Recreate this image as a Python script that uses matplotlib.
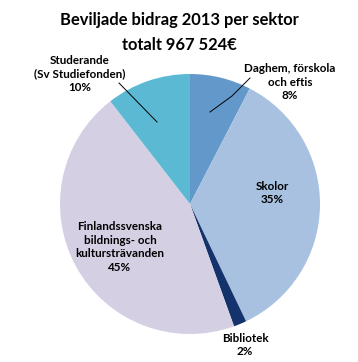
import matplotlib.pyplot as plt

plt.rcParams['font.family'] = ['Lato', 'DejaVu Sans']

labels = ['Daghem, förskola\noch eftis', 'Skolor', 'Bibliotek',
          'Finlandssvenska\nbildnings- och\nkultursträvanden', 'Studerande\n(Sv Studiefonden)']
pct_labels = ['8%', '35%', '2%', '45%', '10%']
values = [7.6, 35.3, 1.6, 45.0, 10.5]
colors = ['#6298CA', '#A8C1E1', '#14336C', '#D5CFE4', '#5BB9D3']

fig = plt.figure(figsize=(3.58, 3.62), dpi=100)

# pie in its own axes: centre (190,204), radius ~130 px
pax = fig.add_axes([(190 - 130) / 358, 1 - (204 + 130) / 362, 260 / 358, 260 / 362])
pax.pie(values, colors=colors, startangle=90, counterclock=False,
        wedgeprops=dict(linewidth=0))
pax.set_xlim(-1, 1)
pax.set_ylim(-1, 1)
pax.set_aspect('equal')

# overlay axes in pixel coords for labels and leader lines
ax = fig.add_axes([0, 0, 1, 1])
ax.set_xlim(0, 358)
ax.set_ylim(362, 0)
ax.axis('off')
ax.patch.set_alpha(0)

ax.text(179, 20, 'Beviljade bidrag 2013 per sektor', ha='center', va='center',
        fontsize=11.9, fontweight='bold')
ax.text(179, 45, 'totalt 967 524€', ha='center', va='center',
        fontsize=11.9, fontweight='bold')

# label positions in pixel coords of the picture
pos = [(290, 82), (272, 193), (245, 345), (120, 247), (80, 74)]
for (x, y), lab, p in zip(pos, labels, pct_labels):
    ax.text(x, y, lab + '\n' + p, ha='center', va='center', fontsize=8.4,
            fontweight='bold', linespacing=1.3)

# leader lines
ax.plot([210, 232, 250], [112, 96, 78], color='black', lw=0.7)
ax.plot([119, 157], [83, 122], color='black', lw=0.7)

fig.savefig('out.png', dpi=100)
